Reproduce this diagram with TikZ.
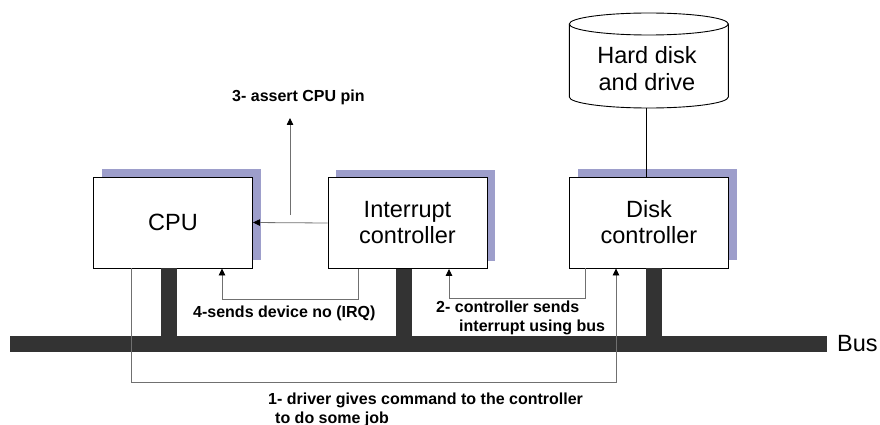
\documentclass[tikz,border=0pt]{standalone}
\usepackage{fontspec}
\setmainfont{Liberation Sans}
\usetikzlibrary{arrows.meta,shadows}

\definecolor{busgray}{HTML}{333333}
\definecolor{shadowblue}{HTML}{9D9ECB}
\definecolor{wiregray}{HTML}{707070}

\tikzset{
  devbox/.style={draw=black, line width=0.9pt, fill=white, align=center,
    inner sep=0pt, minimum width=159pt, minimum height=91pt,
    font=\fontsize{23.5}{26}\selectfont,
    drop shadow={shadow xshift=8pt, shadow yshift=8pt, fill=shadowblue, opacity=1}},
  busbar/.style={fill=busgray, inner sep=0pt, minimum width=817pt, minimum height=16pt},
  stub/.style={draw=busgray, line width=16pt, line cap=butt},
  wire/.style={draw=wiregray, line width=0.8pt},
  tip/.style={-{Triangle[length=7pt,width=6.5pt,black]}},
  note/.style={font=\fontsize{16}{19}\selectfont\bfseries, inner sep=0pt, align=left},
  biglabel/.style={font=\fontsize{23.5}{27}\selectfont, inner sep=0pt, align=center}
}

\begin{document}
\begin{tikzpicture}[x=1pt, y=-1pt]
  \useasboundingbox (0,0) rectangle (880,425);

  % system bus
  \node[busbar] (bus) at (418.5,344) {};
  \node[biglabel, anchor=west] (buslabel) at (837,344) {Bus};

  % devices
  \node[devbox] (cpu) at (173,222.5) {CPU};
  \node[devbox] (ic)  at (407.5,223) {Interrupt\\controller};
  \node[devbox] (dc)  at (649,222.5) {Disk\\controller};

  % bus taps
  \draw[stub] ([xshift=-4pt]cpu.south) -- ([xshift=-4pt]cpu.south |- bus.center);
  \draw[stub] ([xshift=-3.5pt]ic.south) -- ([xshift=-3.5pt]ic.south |- bus.center);
  \draw[stub] ([xshift=4.5pt]dc.south) -- ([xshift=4.5pt]dc.south |- bus.center);

  % hard disk drum
  \draw[line width=0.9pt, fill=white]
    (569.3,24) -- (569.3,97)
    arc[start angle=180, end angle=360, x radius=79.5pt, y radius=11pt]
    -- (728.3,24);
  \draw[line width=0.9pt, fill=white] (648.8,24) ellipse[x radius=79.5pt, y radius=11pt];
  \node[biglabel] (hdd) at (647,69) {Hard disk\\and drive};
  \coordinate (hddbase) at (646,108);
  \draw[line width=0.9pt] (hddbase) -- (hddbase |- dc.north);

  % 1- driver command to the disk controller
  \draw[wire, tip] ([xshift=-42pt]cpu.south) -- ++(0,114) -| ([xshift=-33pt]dc.south);
  \node[note, anchor=west] (cmdlabel) at (268,409.5)
    {1- driver gives command to the controller\\\hspace*{7pt}to do some job};

  % 2- controller interrupts over the bus
  \draw[wire, tip] ([xshift=-64pt]dc.south) -- ++(0,30) -| ([xshift=41.5pt]ic.south);
  \node[note, anchor=west] (irqlabel) at (436,317.5)
    {2- controller sends\\\hspace*{23pt}interrupt using bus};

  % 3- assert CPU pin
  \draw[wire, tip] (ic.west) -- (cpu.east);
  \coordinate (pinbase) at (290,215);
  \coordinate (pintip) at (290,118);
  \draw[wire, tip] (pinbase) -- (pintip);
  \node[note, anchor=west] (pinlabel) at (232,97) {3- assert CPU pin};

  % 4- device number to the CPU
  \draw[wire, tip] ([xshift=-49.5pt]ic.south) -- ++(0,30) -| ([xshift=49pt]cpu.south);
  \node[note, anchor=west] (devlabel) at (193,313) {4-sends device no (IRQ)};
\end{tikzpicture}
\end{document}
